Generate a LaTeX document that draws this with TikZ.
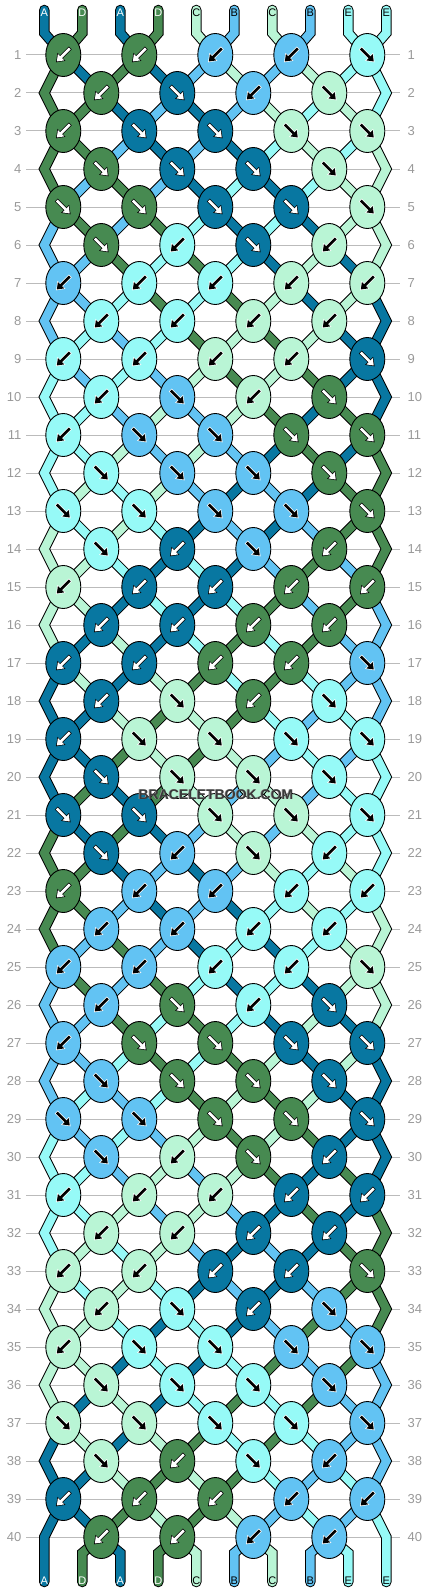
\documentclass[tikz,border=0pt]{standalone}
\usepackage{fontspec}
\setmainfont{Liberation Sans}
\usetikzlibrary{arrows.meta,shapes.geometric}
\definecolor{colA}{HTML}{0877A1}
\definecolor{colD}{HTML}{478A51}
\definecolor{colC}{HTML}{B9F5D5}
\definecolor{colB}{HTML}{62C3F3}
\definecolor{colE}{HTML}{96FAF7}
\definecolor{rowgrey}{HTML}{BBBBBB}
\definecolor{numgrey}{HTML}{999999}
\definecolor{wmdark}{HTML}{3A3A3A}
\definecolor{wmlight}{HTML}{A0A0A0}
\colorlet{txtA}{white}
\colorlet{txtD}{white}
\colorlet{txtB}{black}
\colorlet{txtC}{black}
\colorlet{txtE}{black}
\colorlet{outA}{black}
\colorlet{outD}{black}
\colorlet{outB}{white}
\colorlet{outC}{white}
\colorlet{outE}{white}
\pgfdeclarelayer{grid}
\pgfdeclarelayer{outline}
\pgfdeclarelayer{threads}
\pgfsetlayers{grid,outline,threads,main}
\tikzset{
  knot/.style={ellipse, draw=black, line width=0.9pt, minimum width=35pt, minimum height=43pt, inner sep=0pt},
  arr/.style={line width=2.6pt, -{Triangle[length=6pt,width=8.5pt]}},
  arrout/.style={line width=4.0pt, -{Triangle[length=7.8pt,width=10.8pt]}, shorten >=-1.2pt, shorten <=-0.7pt},
  threadout/.style={draw=black, line width=10.5pt, line cap=round, line join=miter},
  threadin/.style={line width=8.5pt, line cap=round, line join=miter},
  rownum/.style={font=\fontsize{13}{13}\selectfont, text=numgrey, inner sep=0pt},
  tablabel/.style={font=\fontsize{11}{11}\selectfont, inner sep=0pt},
  rowline/.style={draw=rowgrey, line width=1pt}
}
\expandafter\def\csname pat-1\endcsname{B,B,B,B,F}
\expandafter\def\csname pat-2\endcsname{B,F,B,F}
\expandafter\def\csname pat-3\endcsname{B,F,F,F,F}
\expandafter\def\csname pat-4\endcsname{F,F,F,F}
\expandafter\def\csname pat-5\endcsname{F,F,F,F,F}
\expandafter\def\csname pat-6\endcsname{F,B,F,B}
\expandafter\def\csname pat-7\endcsname{B,B,B,B,B}
\expandafter\def\csname pat-8\endcsname{B,B,B,B}
\begin{document}
\begin{tikzpicture}[x=1pt,y=-1pt]
\useasboundingbox (0,0) rectangle (430,1592);
% thread colours
\foreach \cc [count=\ii] in {A,D,A,D,C,B,C,B,E,E}{\expandafter\xdef\csname tc-\ii\endcsname{\cc}}
\foreach \ii in {1,...,10}{%
  \expandafter\xdef\csname th-0-\ii\endcsname{\ii}%
  \expandafter\xdef\csname ps-0-\ii\endcsname{\ii}}
% simulate thread positions
\foreach \ro in {1,...,40}{%
  \pgfmathtruncatemacro\rp{\ro-1}%
  \foreach \pp in {1,...,10}{%
    \ifodd\ro\relax
      \pgfmathtruncatemacro\qq{\pp+2*mod(\pp,2)-1}%
    \else
      \ifnum\pp=1 \def\qq{1}\else\ifnum\pp=10 \def\qq{10}\else
        \pgfmathtruncatemacro\qq{\pp-2*mod(\pp,2)+1}\fi\fi
    \fi
    \edef\thr{\csname th-\rp-\pp\endcsname}%
    \expandafter\xdef\csname th-\ro-\qq\endcsname{\thr}%
    \expandafter\xdef\csname ps-\ro-\thr\endcsname{\qq}%
  }%
}
% grid lines and row numbers
\begin{pgfonlayer}{grid}
\foreach \ro in {1,...,40}{%
  \pgfmathsetmacro\yy{17+38*\ro}%
  \draw[rowline] (26,\yy) -- (400,\yy);
  \node[rownum, anchor=east] (ln-\ro) at (21.5,\yy) {\ro};
  \node[rownum, anchor=west] (rn-\ro) at (407.5,\yy) {\ro};
}
\end{pgfonlayer}
% top / bottom coordinates and labels
\foreach \pp in {1,...,10}{%
  \pgfmathsetmacro\xx{6.3+38*\pp}%
  \coordinate (tt-\pp) at (\xx,10);
  \coordinate (t-\pp) at (\xx,33);
  \coordinate (b-\pp) at (\xx,1553);
  \coordinate (bb-\pp) at (\xx,1582);
  \edef\cc{\csname tc-\pp\endcsname}%
  \node[tablabel, text=txt\cc] (lt-\pp) at (\xx,12.5) {\cc};
  \node[tablabel, text=txt\cc] (lb-\pp) at (\xx,1580.5) {\cc};
}
% edge coordinates
\foreach \ro in {2,4,...,40}{%
  \pgfmathsetmacro\yy{17+38*\ro}%
  \coordinate (e-\ro-1) at (44.3,\yy);
  \coordinate (e-\ro-10) at (386.3,\yy);
}
% knots
\foreach \ro in {1,...,40}{%
  \pgfmathtruncatemacro\rp{\ro-1}%
  \pgfmathtruncatemacro\mm{mod(\ro-1,8)+1}%
  \pgfmathsetmacro\yy{17+38*\ro}%
  \edef\plist{\csname pat-\mm\endcsname}%
  \foreach \ty [count=\kn] in \plist {%
    \ifodd\ro\relax
      \pgfmathtruncatemacro\lpos{2*\kn-1}%
      \pgfmathsetmacro\xx{76*\kn-12.7}%
    \else
      \pgfmathtruncatemacro\lpos{2*\kn}%
      \pgfmathsetmacro\xx{76*\kn+25.3}%
    \fi
    \pgfmathtruncatemacro\rpos{\lpos+1}%
    \if\ty F%
      \edef\kc{\csname tc-\csname th-\rp-\lpos\endcsname\endcsname}%
    \else
      \edef\kc{\csname tc-\csname th-\rp-\rpos\endcsname\endcsname}%
    \fi
    \node[knot, fill=col\kc] (k-\ro-\kn) at (\xx,\yy) {};
    \if\ty F%
      \draw[arrout, color=out\kc] (\xx-6.5,\yy-6.5) -- (\xx+6.5,\yy+6.5);
      \draw[arr, color=txt\kc] (\xx-6.5,\yy-6.5) -- (\xx+6.5,\yy+6.5);
    \else
      \draw[arrout, color=out\kc] (\xx+6.5,\yy-6.5) -- (\xx-6.5,\yy+6.5);
      \draw[arr, color=txt\kc] (\xx+6.5,\yy-6.5) -- (\xx-6.5,\yy+6.5);
    \fi
  }%
}
% threads
\foreach \tj in {1,...,10}{%
  \xdef\tpath{(tt-\tj) -- (t-\tj)}%
  \foreach \ro in {1,...,40}{%
    \pgfmathtruncatemacro\rp{\ro-1}%
    \edef\pp{\csname ps-\rp-\tj\endcsname}%
    \ifodd\ro\relax
      \pgfmathtruncatemacro\kk{(\pp+1)/2}%
      \edef\nm{k-\ro-\kk.center}%
    \else
      \ifnum\pp=1 \edef\nm{e-\ro-1}\else\ifnum\pp=10 \edef\nm{e-\ro-10}\else
        \pgfmathtruncatemacro\kk{\pp/2}\edef\nm{k-\ro-\kk.center}\fi\fi
    \fi
    \xdef\tpath{\tpath -- (\nm)}%
  }%
  \edef\pp{\csname ps-40-\tj\endcsname}%
  \xdef\tpath{\tpath -- (b-\pp) -- (bb-\pp)}%
  \edef\cc{\csname tc-\tj\endcsname}%
  \begin{pgfonlayer}{outline}
    \edef\tmp{\noexpand\draw[threadout] \tpath;}\tmp
  \end{pgfonlayer}
  \begin{pgfonlayer}{threads}
    \edef\tmp{\noexpand\draw[threadin, draw=col\cc] \tpath;}\tmp
  \end{pgfonlayer}
}
% watermark
\node[font=\fontsize{14}{14}\selectfont\bfseries, text=wmlight, inner sep=0pt] (wm2) at (215.2,794.2) {BRACELETBOOK.COM};
\node[font=\fontsize{14}{14}\selectfont\bfseries, text=wmdark, inner sep=0pt] (wm) at (216,795) {BRACELETBOOK.COM};
\end{tikzpicture}
\end{document}
